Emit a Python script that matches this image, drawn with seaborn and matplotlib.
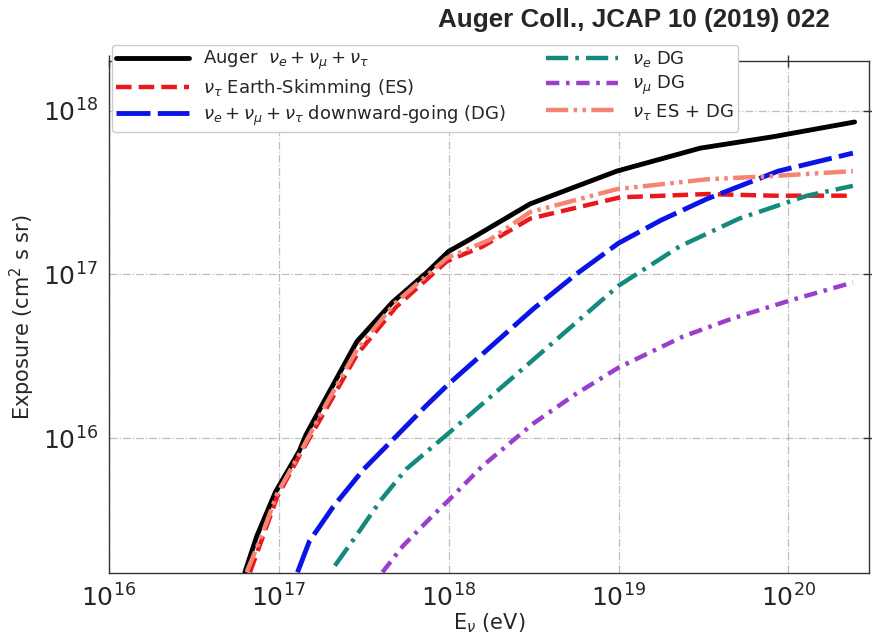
import numpy as np
import pandas as pd
import seaborn as sns
import matplotlib.pyplot as plt

# Values (log10 of energy in eV, log10 of exposure)
auger_logE = [16.80, 16.87, 16.98, 17.12, 17.16, 17.28, 17.46, 17.67, 17.87, 18.00, 18.12, 18.48, 18.99, 19.48, 19.91, 20.39]
auger_logX = [15.18, 15.40, 15.67, 15.92, 16.02, 16.25, 16.59, 16.83, 17.01, 17.14, 17.21, 17.43, 17.63, 17.77, 17.84, 17.93]

es_logE = [16.83, 16.90, 16.99, 17.12, 17.28, 17.46, 17.69, 17.99, 18.20, 18.48, 19.01, 19.52, 19.91, 20.38]
es_logX = [15.18, 15.38, 15.64, 15.89, 16.18, 16.51, 16.80, 17.08, 17.17, 17.34, 17.47, 17.49, 17.48, 17.48]

dg_logE = [17.11, 17.18, 17.32, 17.50, 17.70, 17.87, 18.00, 18.25, 18.50, 18.75, 19.00, 19.25, 19.52, 19.94, 20.38]
dg_logX = [15.18, 15.37, 15.58, 15.81, 16.02, 16.20, 16.33, 16.56, 16.79, 17.00, 17.19, 17.33, 17.46, 17.63, 17.74]

nue_logE = [17.33, 17.46, 17.60, 17.75, 18.00, 18.40, 18.70, 19.00, 19.36, 19.71, 20.11, 20.38]
nue_logX = [15.22, 15.41, 15.62, 15.81, 16.03, 16.39, 16.66, 16.93, 17.17, 17.34, 17.48, 17.54]

numu_logE = [17.61, 17.73, 17.91, 18.00, 18.20, 18.50, 18.75, 19.00, 19.38, 19.67, 20.01, 20.38]
numu_logX = [15.18, 15.34, 15.53, 15.62, 15.83, 16.09, 16.27, 16.43, 16.62, 16.73, 16.84, 16.95]

nutau_logE = [16.81, 16.89, 16.99, 17.12, 17.28, 17.46, 17.68, 17.99, 18.24, 18.48, 18.99, 19.52, 19.91, 20.38]
nutau_logX = [15.18, 15.38, 15.66, 15.90, 16.21, 16.54, 16.82, 17.10, 17.21, 17.38, 17.52, 17.58, 17.60, 17.63]

labels = [
    r'Auger  $\nu_e + \nu_\mu + \nu_\tau$',
    r'$\nu_\tau$ Earth-Skimming (ES)',
    r'$\nu_e + \nu_\mu + \nu_\tau$ downward-going (DG)',
    r'$\nu_e$ DG',
    r'$\nu_\mu$ DG',
    r'$\nu_\tau$ ES + DG',
]

sns.set_theme(style='white')
plt.rcParams['font.family'] = ['DejaVu Sans']

fig = plt.figure(figsize=(8.72, 6.38), dpi=100)
ax = fig.add_axes([0.125, 0.102, 0.872, 0.802])

series = [
    (auger_logE, auger_logX, 'black', '-', 3.5),
    (es_logE, es_logX, '#e8181c', (0, (3.5, 1.6)), 3.2),
    (dg_logE, dg_logX, '#0a14e6', (0, (7, 1.5)), 3.5),
    (nue_logE, nue_logX, '#148a7c', (0, (5, 1.6, 0.8, 1.6)), 3.2),
    (numu_logE, numu_logX, '#9a3fcc', (0, (3, 1.5, 0.8, 1.5)), 3.2),
    (nutau_logE, nutau_logX, '#f48474', (0, (5, 1.2, 0.8, 1.2, 0.8, 1.2)), 3.2),
]

for (lx, ly, col, ls, lw), lab in zip(series, labels):
    d = pd.DataFrame({'E': 10.0 ** np.array(lx), 'X': 10.0 ** np.array(ly)})
    sns.lineplot(data=d, x='E', y='X', color=col, linestyle=ls, lw=lw,
                 label=lab, ax=ax)

ax.set_xscale('log')
ax.set_yscale('log')
ax.set_xlim(1e16, 3e20)
ax.set_ylim(1.5e15, 2e18)
ax.set_xticks([1e16, 1e17, 1e18, 1e19, 1e20])
ax.set_yticks([1e16, 1e17, 1e18])

ax.grid(which='major', linestyle='-.', color='gray', alpha=0.5, lw=0.9)
ax.tick_params(which='major', direction='inout', length=9, width=1,
               labelsize=18, top=True, right=True, color='#333333')
ax.tick_params(which='minor', direction='in', length=4, width=0.8,
               top=False, right=False, color='#333333')
for s in ax.spines.values():
    s.set_color('#333333')
    s.set_linewidth(1.0)

ax.set_xlabel(r'E$_\nu$ (eV)', fontsize=15, labelpad=0)
ax.set_ylabel(r'Exposure (cm$^2$ s sr)', fontsize=15)

ax.legend(ncol=2, loc='upper left', bbox_to_anchor=(-0.008, 1.05), fontsize=13,
          handlelength=4.0, columnspacing=2.2, labelspacing=0.25,
          frameon=True, framealpha=1.0, edgecolor='#cccccc', borderpad=0.25)

fig.text(0.952, 0.968, 'Auger Coll., JCAP 10 (2019) 022', ha='right', va='center',
         fontsize=18.7, fontweight='bold', family=['Liberation Sans', 'DejaVu Sans'])

fig.savefig('out.png', dpi=100)
